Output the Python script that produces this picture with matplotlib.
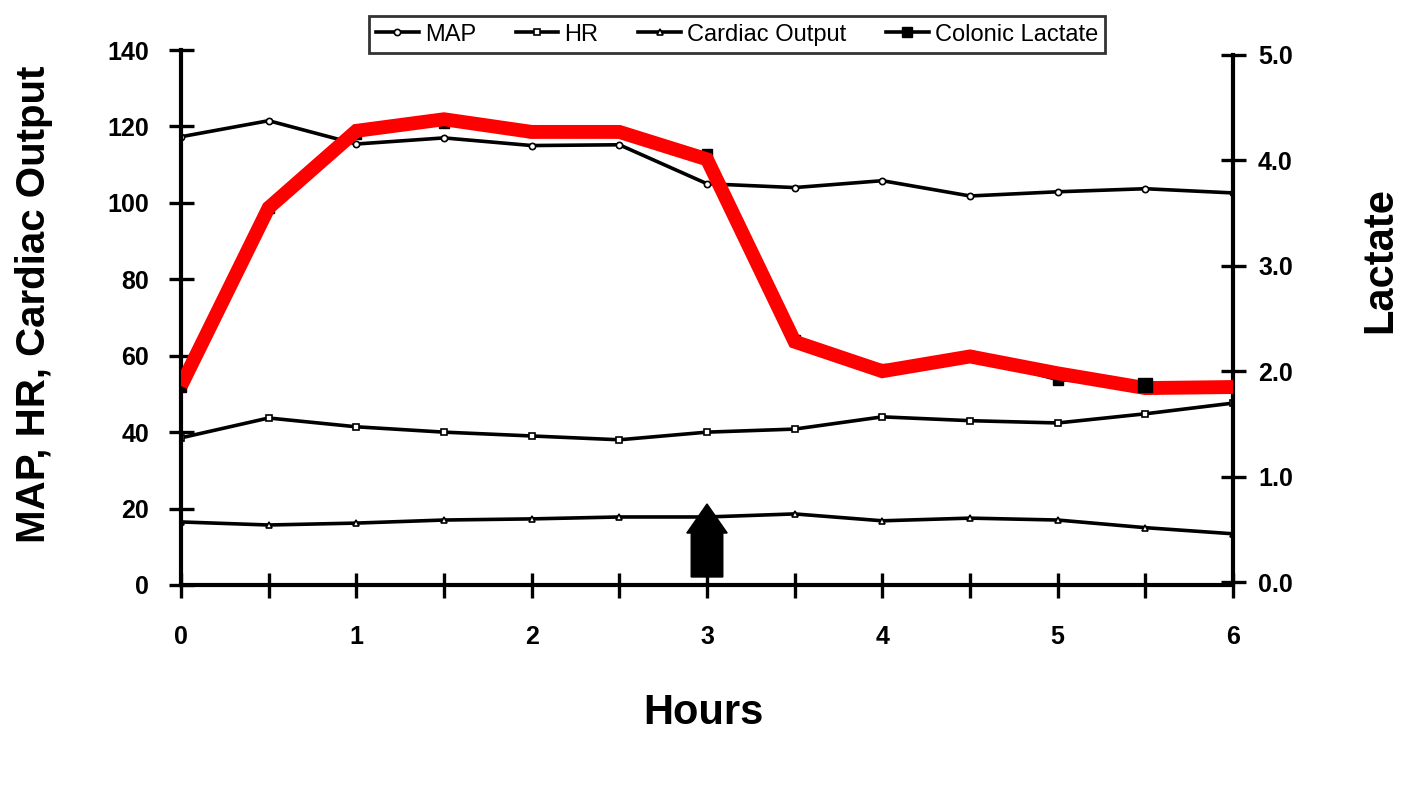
import matplotlib
matplotlib.use("Agg")
import matplotlib.pyplot as plt

# значения
hours = [0, 0.5, 1, 1.5, 2, 2.5, 3, 3.5, 4, 4.5, 5, 5.5, 6]
map_vals = [117.3, 121.5, 115.4, 117.0, 115.0, 115.2, 105.0, 104.0, 105.8, 101.8, 102.9, 103.7, 102.6]
hr_vals = [38.5, 43.7, 41.4, 40.0, 39.0, 38.0, 40.0, 40.8, 44.0, 43.0, 42.4, 44.8, 47.6]
co_vals = [16.5, 15.7, 16.2, 17.0, 17.3, 17.8, 17.8, 18.6, 16.8, 17.5, 17.0, 15.0, 13.4]
lactate = [1.85, 3.55, 4.25, 4.35, 4.27, 4.27, 4.06, 2.30, 2.02, 2.14, 1.92, 1.87, 1.85]
lactate_red = [1.86, 3.55, 4.28, 4.39, 4.27, 4.27, 4.01, 2.28, 2.00, 2.14, 1.98, 1.84, 1.85]
arrow_hour = 3

plt.rcParams['font.family'] = ['Liberation Sans', 'DejaVu Sans']

fig = plt.figure(figsize=(14.05, 7.9), dpi=100)
ax = fig.add_axes([0.1288, 0.2595, 0.7488, 0.6772])

lw = 2.6
ax.plot(hours, map_vals, color='black', lw=lw, marker='o', ms=4.5, mfc='white', mec='black', mew=1.2, label='MAP')
ax.plot(hours, hr_vals, color='black', lw=lw, marker='s', ms=4.5, mfc='white', mec='black', mew=1.2, label='HR')
ax.plot(hours, co_vals, color='black', lw=lw, marker='^', ms=4.5, mfc='white', mec='black', mew=1.2, label='Cardiac Output')

# стрелка у 3 часов
ax.arrow(arrow_hour, 2.1, 0, 19.1, width=0.18, head_width=0.23, head_length=7.6,
         length_includes_head=True, color='black', zorder=3)

ax.set_xlim(0, 6)
ax.set_ylim(0, 140)
ax.set_xticks(range(7))
ax.set_xticks([h + 0.5 for h in range(6)], minor=True)
ax.set_yticks(range(0, 141, 20))

for s in ['top', 'right']:
    ax.spines[s].set_visible(False)
for s in ['left', 'bottom']:
    ax.spines[s].set_linewidth(3)

ax.tick_params(axis='both', which='both', direction='inout', length=18, width=2.4)
ax.tick_params(axis='x', which='major', pad=20, labelsize=18)
ax.tick_params(axis='y', pad=14, labelsize=18)
for lab in ax.get_xticklabels() + ax.get_yticklabels():
    lab.set_fontweight('bold')

# правая ось - лактат
ax2 = ax.twinx()
ax2.plot(hours, lactate, color='black', lw=lw, marker='s', ms=7, mfc='black', mec='black',
         label='Colonic Lactate', zorder=2)
ax2.plot(hours, lactate_red, color='red', lw=10, solid_joinstyle='miter', solid_capstyle='butt', zorder=3)
ax2.plot(hours[11], lactate[11], marker='s', ms=10, color='black', ls='none', zorder=4)
ax2.set_ylim(-0.028, 5.047)
ax2.set_yticks(range(6))
ax2.set_yticklabels([f'{v:.1f}' for v in range(6)])
for s in ['top', 'left', 'bottom']:
    ax2.spines[s].set_visible(False)
ax2.spines['right'].set_linewidth(3)
ax2.spines['right'].set_bounds(0, 5)
ax2.tick_params(axis='y', direction='inout', length=18, width=2.4, pad=9, labelsize=18)
for lab in ax2.get_yticklabels():
    lab.set_fontweight('bold')

# подписи осей
fig.text(703 / 1405, 1 - 713 / 790, 'Hours', fontsize=30, fontweight='bold', ha='center', va='center')
fig.text(34 / 1405, 1 - 304 / 790, 'MAP, HR, Cardiac Output', fontsize=29, fontweight='bold',
         rotation=90, ha='center', va='center')
fig.text(1380 / 1405, 1 - 260 / 790, 'Lactate', fontsize=30, fontweight='bold',
         rotation=90, ha='center', va='center')

h1, l1 = ax.get_legend_handles_labels()
h2, l2 = ax2.get_legend_handles_labels()
leg = fig.legend(h1 + h2, l1 + l2, loc='center', bbox_to_anchor=(0.5246, 0.9563), ncol=4,
                 fontsize=17, frameon=True, fancybox=False, edgecolor='black',
                 handlelength=1.8, handletextpad=0.25, columnspacing=1.7, borderpad=0.3)
leg.get_frame().set_linewidth(2)

fig.savefig('out.png', dpi=100, facecolor='white')
